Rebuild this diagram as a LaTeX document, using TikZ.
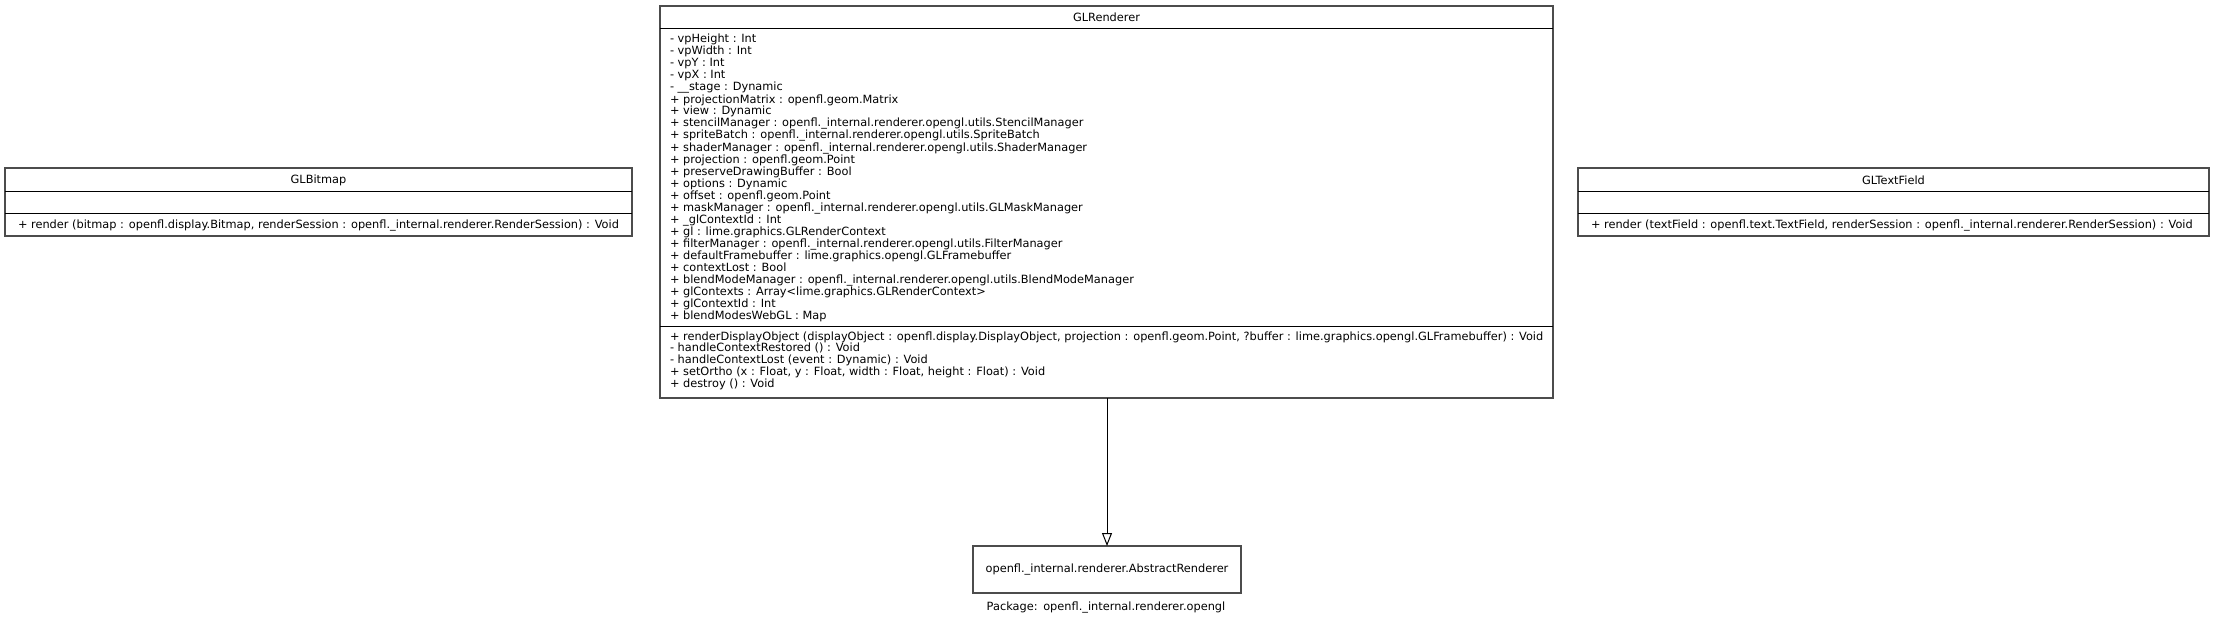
\documentclass[tikz,border=0pt]{standalone}
\usepackage{fontspec}
\setmainfont{DejaVu Sans}
\usetikzlibrary{arrows.meta}
\begin{document}
\begin{tikzpicture}[x=1pt,y=-1pt,
  classbox/.style={draw=black!70, line width=1.6pt, fill=none, inner sep=0pt, outer sep=0pt, rectangle},
  divline/.style={draw=black, line width=0.9pt},
  txt/.style={inner sep=0pt, outer sep=0pt, font=\fontsize{11.35}{12}\selectfont, text=black},
  inherit/.style={draw=black, line width=1pt, -{Triangle[open, length=13pt, width=10pt, line width=1pt]}}
]
\useasboundingbox[fill=white] (0,0) rectangle (2215,623);

% ---------- GLBitmap ----------
\node[classbox, minimum width=627pt, minimum height=68pt] (glb) at (318.5,202) {};
\draw[divline] (5,191) -- (632,191);
\draw[divline] (5,213) -- (632,213);
\node[txt] (glbt) at (318.5,180) {GLBitmap};
\node[txt, anchor=base west] (glbm) at (18,228.5) {+ render (bitmap : openfl.display.Bitmap, renderSession : openfl.\_internal.renderer.RenderSession) : Void};

% ---------- GLTextField ----------
\node[classbox, minimum width=631pt, minimum height=68pt] (gltf) at (1893.5,202) {};
\draw[divline] (1578,191) -- (2209,191);
\draw[divline] (1578,213) -- (2209,213);
\node[txt] (gltft) at (1893.5,180) {GLTextField};
\node[txt, anchor=base west] (gltfm) at (1591,228.5) {+ render (textField : openfl.text.TextField, renderSession : openfl.\_internal.renderer.RenderSession) : Void};

% ---------- GLRenderer ----------
\node[classbox, minimum width=893pt, minimum height=392pt] (glr) at (1106.5,202) {};
\draw[divline] (660,28) -- (1553,28);
\draw[divline] (660,326) -- (1553,326);
\node[txt] (glrt) at (1106.5,17) {GLRenderer};
\foreach \t [count=\i from 0] in {
  {- vpHeight : Int},
  {- vpWidth : Int},
  {- vpY : Int},
  {- vpX : Int},
  {- \_\_stage : Dynamic},
  {+ projectionMatrix : openfl.geom.Matrix},
  {+ view : Dynamic},
  {+ stencilManager : openfl.\_internal.renderer.opengl.utils.StencilManager},
  {+ spriteBatch : openfl.\_internal.renderer.opengl.utils.SpriteBatch},
  {+ shaderManager : openfl.\_internal.renderer.opengl.utils.ShaderManager},
  {+ projection : openfl.geom.Point},
  {+ preserveDrawingBuffer : Bool},
  {+ options : Dynamic},
  {+ offset : openfl.geom.Point},
  {+ maskManager : openfl.\_internal.renderer.opengl.utils.GLMaskManager},
  {+ \_glContextId : Int},
  {+ gl : lime.graphics.GLRenderContext},
  {+ filterManager : openfl.\_internal.renderer.opengl.utils.FilterManager},
  {+ defaultFramebuffer : lime.graphics.opengl.GLFramebuffer},
  {+ contextLost : Bool},
  {+ blendModeManager : openfl.\_internal.renderer.opengl.utils.BlendModeManager},
  {+ glContexts : Array<lime.graphics.GLRenderContext>},
  {+ glContextId : Int},
  {+ blendModesWebGL : Map}}
  \node[txt, anchor=base west] (glra\i) at (670,{43+12*\i}) {\t};
\foreach \t [count=\i from 0] in {
  {+ renderDisplayObject (displayObject : openfl.display.DisplayObject, projection : openfl.geom.Point, ?buffer : lime.graphics.opengl.GLFramebuffer) : Void},
  {- handleContextRestored () : Void},
  {- handleContextLost (event : Dynamic) : Void},
  {+ setOrtho (x : Float, y : Float, width : Float, height : Float) : Void},
  {+ destroy () : Void}}
  \node[txt, anchor=base west] (glrm\i) at (670,{340+11.75*\i}) {\t};

% ---------- AbstractRenderer ----------
\node[classbox, minimum width=268pt, minimum height=47pt] (abs) at (1107,569.5) {};
\node[txt] (abst) at (1107,569.5) {openfl.\_internal.renderer.AbstractRenderer};
\node[txt] (pkg) at (1106,608) {Package:\enspace openfl.\_internal.renderer.opengl};

% ---------- inheritance ----------
\draw[inherit] (glr.south -| abs.north) -- (abs.north);
\end{tikzpicture}
\end{document}
